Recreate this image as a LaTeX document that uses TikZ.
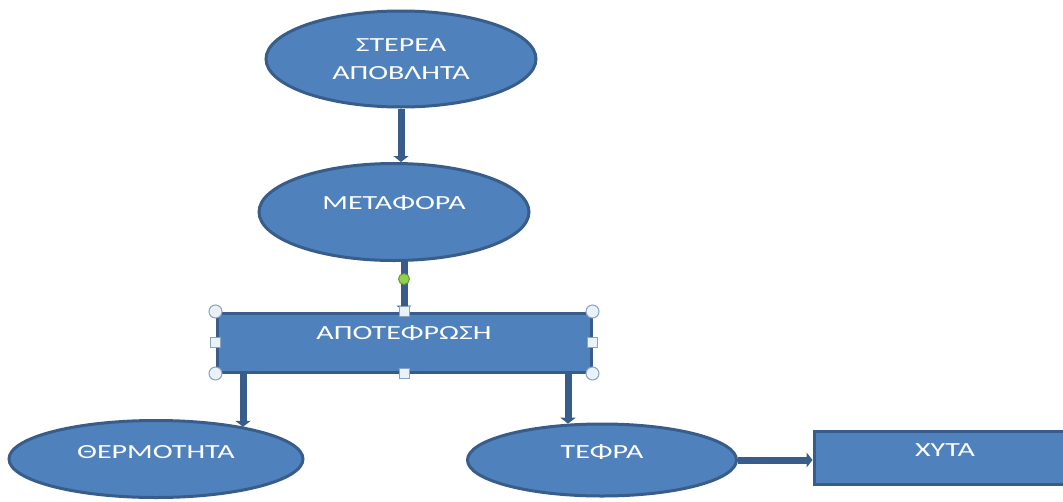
\documentclass[tikz,border=0pt]{standalone}
\usepackage{fontspec}
\newfontfamily\lblfont[FakeStretch=1.5]{Carlito}
\usetikzlibrary{shapes.geometric,arrows.meta,calc}
\definecolor{boxfill}{HTML}{4F81BD}
\definecolor{boxline}{HTML}{385D8A}
\definecolor{handlefill}{HTML}{E9F2FA}
\definecolor{handleline}{HTML}{8BA3BD}
\definecolor{rotfill}{HTML}{92D050}
\definecolor{rotline}{HTML}{5F9A2E}

\begin{document}
\begin{tikzpicture}[x=1pt,y=-1pt,
  shapebase/.style={draw=boxline, fill=boxfill, line width=3pt, text=white,
    font=\lblfont\fontsize{20}{28}\selectfont, inner sep=0pt},
  blob/.style={shapebase, ellipse},
  stepbox/.style={shapebase, rectangle},
  raised/.style={text height=12.6pt, text depth=#1},
  conn/.style={draw=boxline, line width=7pt, -{Triangle[width=15pt,length=6pt]}},
  cornerhandle/.style={circle, draw=handleline, fill=handlefill, line width=1pt,
    minimum size=13pt, inner sep=0pt},
  sidehandle/.style={rectangle, draw=handleline, fill=handlefill, line width=1pt,
    minimum size=10pt, inner sep=0pt},
  rothandle/.style={circle, draw=rotline, fill=rotfill, line width=1pt,
    minimum size=11pt, inner sep=0pt}]

\useasboundingbox (0,0) rectangle (1063,501);
\clip (0,0) rectangle (1063,501);

% flow shapes
\node[blob, minimum width=270pt, minimum height=96pt, align=center] (src) at (401,59)
  {ΣΤΕΡΕΑ\\ΑΠΟΒΛΗΤΑ};
\node[blob, minimum width=270pt, minimum height=97pt, raised=18pt] (met) at (394,212)
  {ΜΕΤΑΦΟΡΑ};
\node[stepbox, minimum width=374pt, minimum height=59pt, raised=19pt] (proc) at (404,342.5)
  {ΑΠΟΤΕΦΡΩΣΗ};
\node[blob, minimum width=294pt, minimum height=77pt, raised=14pt] (heat) at (156,459)
  {ΘΕΡΜΟΤΗΤΑ};
\node[blob, minimum width=269pt, minimum height=72pt, raised=16pt] (ash) at (602,460)
  {ΤΕΦΡΑ};
\node[stepbox, minimum width=262pt, minimum height=53pt, raised=15pt] (land) at (945,457.5)
  {ΧΥΤΑ};

% drop points of the two lower connectors
\coordinate (dropL) at (243,0);
\coordinate (dropR) at (568,0);

% connectors
\draw[conn] (src.south) -- (src.south |- met.north);
\draw[conn] (met.south -| proc.north) -- (proc.north);
\draw[conn] (proc.south -| dropL) -- (dropL |- heat.20);
\draw[conn] (proc.south -| dropR) -- (dropR |- ash.133);
\draw[conn] (ash.east) -- (ash.east -| land.west);

% selection handles around the incineration box
\node[rothandle] (rot) at (proc.north |- 0,279) {};
\foreach \a in {north west, north east, south west, south east}
  \node[cornerhandle] at (proc.\a) {};
\foreach \a in {north, south, east, west}
  \node[sidehandle] at (proc.\a) {};
\end{tikzpicture}
\end{document}
